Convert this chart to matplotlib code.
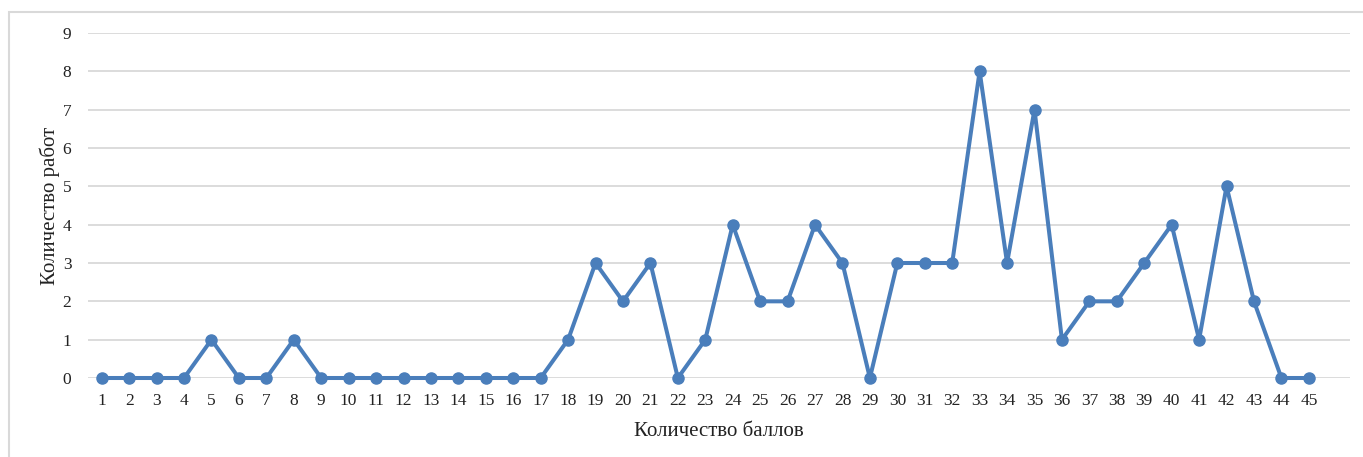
import matplotlib
matplotlib.use('Agg')
import matplotlib.pyplot as plt
from matplotlib.patches import Rectangle

# scores 1..45 and number of works with each score
scores = list(range(1, 46))
works = [0, 0, 0, 0, 1, 0, 0, 1, 0, 0,
         0, 0, 0, 0, 0, 0, 0, 1, 3, 2,
         3, 0, 1, 4, 2, 2, 4, 3, 0, 3,
         3, 3, 8, 3, 7, 1, 2, 2, 3, 4,
         1, 5, 2, 0, 0]
y_ticks = list(range(0, 10))

plt.rcParams['font.family'] = ['Liberation Serif', 'DejaVu Serif']

fig = plt.figure(figsize=(13.63, 4.57), dpi=100)
ax = fig.add_axes([88 / 1363, 79 / 457, (1350 - 88) / 1363, (378 - 33) / 457])

# outer chart frame (light gray), opens past the right and bottom edges
fig.patches.append(Rectangle((9 / 1363, -0.05), 1.1, 1 - 12 / 457 + 0.05,
                             transform=fig.transFigure, fill=False,
                             edgecolor='#d9d9d9', linewidth=1.5))

ax.plot(scores, works, '-o', color='#4a7ebb', linewidth=2.9,
        markersize=8, zorder=3, clip_on=False)

# the category axis keeps one empty slot on the right, as in the original
ax.set_xlim(0.5, 46.5)
ax.set_ylim(0, 9)
ax.set_xticks(scores)
ax.set_yticks(y_ticks)
ax.tick_params(length=0, labelsize=12.5, colors='#222222')
ax.tick_params(axis='x', pad=11)
ax.tick_params(axis='y', pad=12)
ax.grid(axis='y', color='#d9d9d9', linewidth=1.3)
ax.set_axisbelow(True)
for s in ax.spines.values():
    s.set_visible(False)

ax.set_xlabel('Количество баллов', fontsize=15, color='#222222', labelpad=9)
ax.set_ylabel('Количество работ', fontsize=15, color='#222222', labelpad=2)

fig.savefig('out.png', dpi=100)
